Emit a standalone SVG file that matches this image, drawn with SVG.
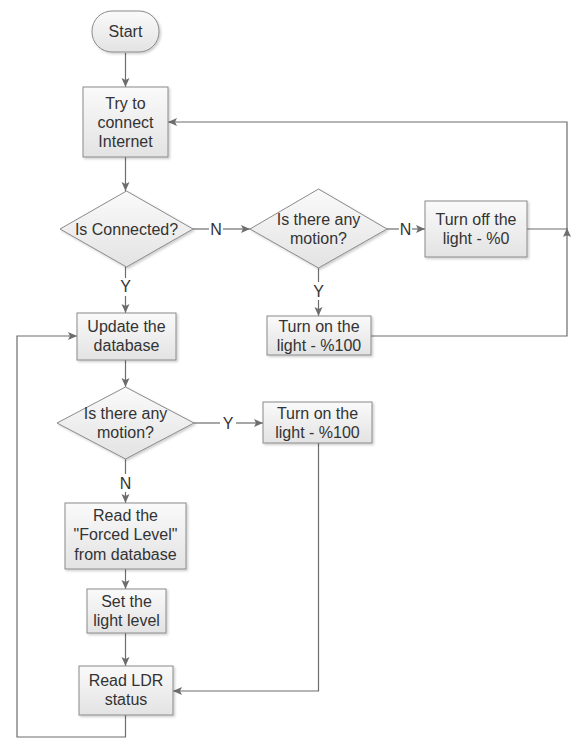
<svg xmlns="http://www.w3.org/2000/svg" width="573" height="740" viewBox="0 0 573 740">
<defs>
<linearGradient id="g" x1="0" y1="0" x2="0" y2="1">
<stop offset="0" stop-color="#fafafa"/>
<stop offset="1" stop-color="#e3e3e3"/>
</linearGradient>
<filter id="sh" x="-10%" y="-10%" width="130%" height="130%">
<feDropShadow dx="1.5" dy="1.5" stdDeviation="1" flood-color="#000" flood-opacity="0.2"/>
</filter>
<marker id="ah" markerWidth="10" markerHeight="10" viewBox="0 0 10 10" refX="9" refY="5" orient="auto" markerUnits="userSpaceOnUse">
<path d="M0,1 L9,5 L0,9 L2,5 Z" fill="#6d6d6d"/>
</marker>
</defs>
<style>
.n{fill:url(#g);stroke:#8a8a8a;stroke-width:1;filter:url(#sh)}
.t{font-family:"Liberation Sans",Arial,sans-serif;font-size:16px;fill:#333;text-anchor:middle}
.c{fill:none;stroke:#6d6d6d;stroke-width:1.2}
.a{marker-end:url(#ah)}
</style>
<rect width="573" height="740" fill="#fff"/>
<g id="connectors">
<path class="c a" d="M125.5,53 V87"/>
<path class="c a" d="M125.5,157 V191"/>
<path class="c" d="M193,229 H209"/>
<path class="c a" d="M223,229 H250"/>
<path class="c" d="M387,229 H399"/>
<path class="c a" d="M412,229 H425"/>
<path class="c" d="M527,229 H567"/>
<path class="c" d="M371,336 H567 V230"/>
<path class="c a" d="M567,236 V228"/>
<path class="c a" d="M567,229 V122 H168"/>
<path class="c" d="M318.5,268 V282"/>
<path class="c a" d="M318.5,300 V316"/>
<path class="c" d="M125.5,267 V278"/>
<path class="c a" d="M125.5,296 V313"/>
<path class="c a" d="M125.5,360 V387"/>
<path class="c" d="M194,423 H220"/>
<path class="c a" d="M236,423 H263"/>
<path class="c a" d="M318.5,443 V691 H173"/>
<path class="c" d="M125.5,459 V474"/>
<path class="c a" d="M125.5,492 V503"/>
<path class="c a" d="M125.5,569 V589"/>
<path class="c a" d="M125.5,633 V666"/>
<path class="c a" d="M125.5,715 V737 H17 V336 H77"/>
<text class="t" x="216" y="234.5">N</text>
<text class="t" x="405.5" y="234.5">N</text>
<text class="t" x="318.5" y="297">Y</text>
<text class="t" x="125.5" y="292">Y</text>
<text class="t" x="228" y="428.5">Y</text>
<text class="t" x="125.5" y="489">N</text>
</g>
<g id="start">
<rect class="n" x="92" y="11" width="67" height="41" rx="20" ry="20"/>
<text class="t" x="125.5" y="37">Start</text>
</g>
<g id="try-connect">
<rect class="n" x="83" y="87" width="85" height="70"/>
<text class="t" x="125.5" y="108.5">Try to</text>
<text class="t" x="125.5" y="127.5">connect</text>
<text class="t" x="125.5" y="146.5">Internet</text>
</g>
<g id="is-connected">
<polygon class="n" points="126.5,191 193,229 126.5,267 60,229"/>
<text class="t" x="126.5" y="234.5">Is Connected?</text>
</g>
<g id="motion1">
<polygon class="n" points="318.5,189 387,229 318.5,268 250,229"/>
<text class="t" x="318.5" y="224.5">Is there any</text>
<text class="t" x="318.5" y="243.5">motion?</text>
</g>
<g id="turn-off">
<rect class="n" x="425" y="201" width="102" height="56"/>
<text class="t" x="476" y="224.5">Turn off the</text>
<text class="t" x="476" y="243.5">light - %0</text>
</g>
<g id="turn-on1">
<rect class="n" x="267" y="316" width="104" height="39"/>
<text class="t" x="319" y="331.5">Turn on the</text>
<text class="t" x="319" y="350.5">light - %100</text>
</g>
<g id="update-db">
<rect class="n" x="77" y="313" width="99" height="47"/>
<text class="t" x="126.5" y="331.5">Update the</text>
<text class="t" x="126.5" y="351">database</text>
</g>
<g id="motion2">
<polygon class="n" points="125.5,387 194,423 125.5,459 57,423"/>
<text class="t" x="125.5" y="418.5">Is there any</text>
<text class="t" x="125.5" y="437.5">motion?</text>
</g>
<g id="turn-on2">
<rect class="n" x="263" y="402" width="109" height="41"/>
<text class="t" x="317.5" y="418.5">Turn on the</text>
<text class="t" x="317.5" y="437.5">light - %100</text>
</g>
<g id="read-forced">
<rect class="n" x="65" y="503" width="121" height="66"/>
<text class="t" x="125.5" y="520.5">Read the</text>
<text class="t" x="125.5" y="540">"Forced Level"</text>
<text class="t" x="125.5" y="559.5">from database</text>
</g>
<g id="set-level">
<rect class="n" x="87" y="589" width="79" height="44"/>
<text class="t" x="126.5" y="606.5">Set the</text>
<text class="t" x="126.5" y="626">light level</text>
</g>
<g id="read-ldr">
<rect class="n" x="79" y="666" width="94" height="49"/>
<text class="t" x="126" y="685.5">Read LDR</text>
<text class="t" x="126" y="705">status</text>
</g>
</svg>
